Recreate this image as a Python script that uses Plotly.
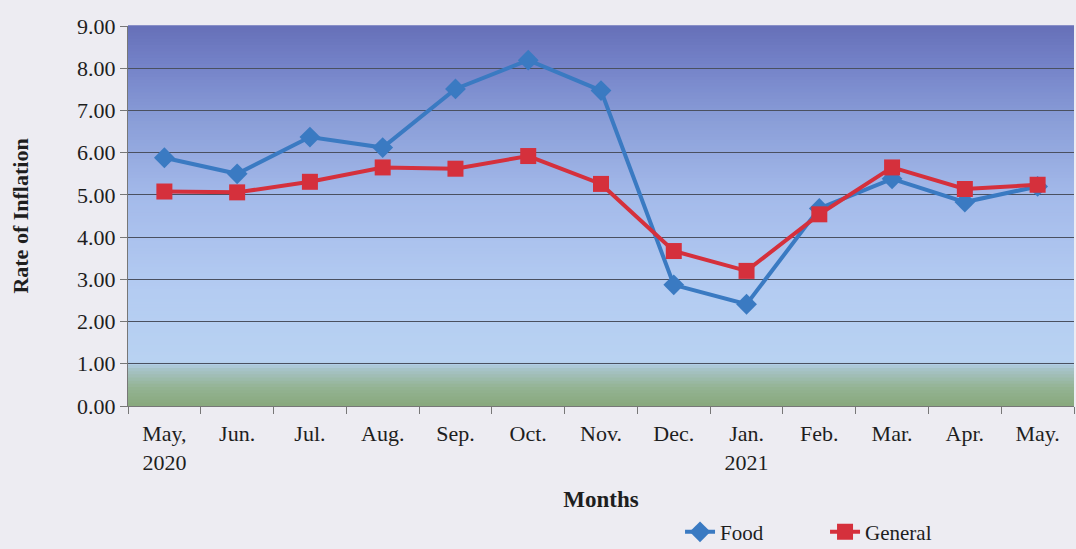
import plotly.graph_objects as go

months = ["May,<br>2020", "Jun.", "Jul.", "Aug.", "Sep.", "Oct.", "Nov.", "Dec.",
          "Jan.<br>2021", "Feb.", "Mar.", "Apr.", "May."]
food = [5.88, 5.50, 6.37, 6.12, 7.51, 8.19, 7.47, 2.87, 2.41, 4.68, 5.38, 4.83, 5.20]
general = [5.08, 5.06, 5.31, 5.65, 5.62, 5.92, 5.26, 3.67, 3.20, 4.54, 5.65, 5.14, 5.24]
y_ticks = [0, 1, 2, 3, 4, 5, 6, 7, 8, 9]

FONT = "Liberation Serif"

# background gradient stops (fraction of plot height from bottom, colour)
stops = [(0.0, (136, 168, 124)), (0.05, (148, 180, 148)), (0.10, (168, 196, 204)),
         (0.115, (184, 210, 242)), (0.30, (180, 204, 242)), (0.55, (164, 186, 234)),
         (0.75, (138, 158, 216)), (0.90, (116, 130, 200)), (1.0, (102, 112, 184))]


def colour_at(t):
    for (t0, c0), (t1, c1) in zip(stops[:-1], stops[1:]):
        if t0 <= t <= t1:
            f = (t - t0) / (t1 - t0) if t1 > t0 else 0
            c = [round(a + (b - a) * f) for a, b in zip(c0, c1)]
            return "rgb(%d,%d,%d)" % tuple(c)
    return "rgb(%d,%d,%d)" % stops[-1][1]


shapes = []
N = 120
for i in range(N):
    t0 = i / N
    t1 = (i + 1) / N
    shapes.append(dict(type="rect", xref="x domain", yref="y domain", x0=0, x1=1,
                       y0=t0, y1=t1 + 0.002, fillcolor=colour_at((t0 + t1) / 2),
                       line=dict(width=0), layer="below"))

fig = go.Figure()
fig.add_trace(go.Scatter(x=months, y=food, name="Food", mode="lines+markers",
                         line=dict(color="#3A7AC2", width=4),
                         marker=dict(symbol="diamond", size=16, color="#3A7AC2")))
fig.add_trace(go.Scatter(x=months, y=general, name="General", mode="lines+markers",
                         line=dict(color="#D5303C", width=4),
                         marker=dict(symbol="square", size=16, color="#D5303C")))

fig.update_layout(
    width=1076, height=549,
    margin=dict(l=128, r=2, t=26, b=143),
    paper_bgcolor="#EDECF2",
    plot_bgcolor="rgba(0,0,0,0)",
    shapes=shapes,
    font=dict(family=FONT, size=22, color="#1E1E1E"),
    showlegend=True,
    legend=dict(orientation="h", x=0.632, xref="container", xanchor="left",
                y=0.068, yref="container", yanchor="top",
                bgcolor="rgba(0,0,0,0)", font=dict(size=21, family=FONT, color="#1E1E1E"),
                tracegroupgap=0, entrywidth=100, entrywidthmode="pixels"),
)
fig.update_xaxes(
    type="category", tickson="boundaries", ticks="outside", ticklen=7,
    tickcolor="#777777", showgrid=False, showline=True, linecolor="#777777",
    tickfont=dict(family=FONT, size=22, color="#1E1E1E"), ticklabelstandoff=8,
    title=dict(text="<b>Months</b>", font=dict(family=FONT, size=23), standoff=27),
    range=[-0.5, 12.5], automargin=False,
)
fig.update_yaxes(
    range=[0, 9], tickvals=y_ticks, tickformat=".2f", ticks="outside", ticklen=7,
    tickcolor="#777777", showgrid=True, gridcolor="#4A5060", gridwidth=1,
    showline=True, linecolor="#777777", zeroline=False,
    tickfont=dict(family=FONT, size=22, color="#1E1E1E"),
    title=dict(text="<b>Rate of Inflation</b>", font=dict(family=FONT, size=22), standoff=42),
    automargin=False,
)

fig.write_html("out.html", config={"displayModeBar": False},
               post_script="document.body.style.margin='0px';")
